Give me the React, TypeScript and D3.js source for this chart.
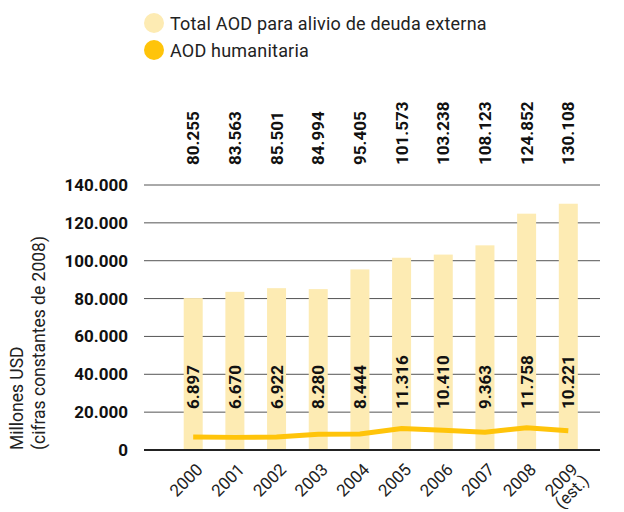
import React from "react";
import * as d3 from "d3";

const years = ["2000", "2001", "2002", "2003", "2004", "2005", "2006", "2007", "2008", "2009"];
const totalAOD = [80255, 83563, 85501, 84994, 95405, 101573, 103238, 108123, 124852, 130108];
const humanitarian = [6897, 6670, 6922, 8280, 8444, 11316, 10410, 9363, 11758, 10221];
const yTicks = [0, 20000, 40000, 60000, 80000, 100000, 120000, 140000];

const fmt = (v: number) => d3.format(",")(v).replace(/,/g, ".");

const BAR = "#FDEBB3";
const LINE = "#FFC40A";
const FONT = "Roboto, 'DejaVu Sans', sans-serif";

export default function App() {
  const x = d3.scalePoint<string>().domain(years).range([193.2, 568.3]);
  const y = d3.scaleLinear().domain([0, 140000]).range([450, 185]);
  const barW = 19;
  const line = d3
    .line<number>()
    .x((_, i) => x(years[i]) as number)
    .y((d) => y(d));

  return (
    <div style={{ position: "absolute", left: 0, top: 0 }}>
      <svg width={624} height={512} style={{ display: "block", fontFamily: FONT }}>
        <rect width={624} height={512} fill="#fff" />
        {/* legend */}
        <circle cx={154} cy={23} r={10} fill={BAR} />
        <text x={170} y={29.5} fontSize={18} letterSpacing={0.2} fill="#222">Total AOD para alivio de deuda externa</text>
        <circle cx={154} cy={50} r={10} fill={LINE} />
        <text x={170} y={56.5} fontSize={18} letterSpacing={0.2} fill="#222">AOD humanitaria</text>

        {/* gridlines */}
        {yTicks.slice(1).map((t) => (
          <line key={t} x1={144} x2={600} y1={y(t)} y2={y(t)} stroke="#555" strokeWidth={1} />
        ))}
        {/* y tick labels */}
        {yTicks.map((t) => (
          <text key={t} x={128} y={y(t)} dy="0.35em" textAnchor="end" fontSize={17} fontWeight="bold" fill="#111">
            {fmt(t)}
          </text>
        ))}

        {/* bars */}
        {totalAOD.map((v, i) => (
          <rect key={i} x={(x(years[i]) as number) - barW / 2} y={y(v)} width={barW} height={y(0) - y(v)} fill={BAR} />
        ))}

        {/* zero line */}
        <line x1={144} x2={600} y1={y(0)} y2={y(0)} stroke="#222" strokeWidth={2} />

        {/* humanitarian line */}
        <path d={line(humanitarian) as string} fill="none" stroke={LINE} strokeWidth={5} />

        {/* top labels */}
        {totalAOD.map((v, i) => (
          <text
            key={i}
            transform={`translate(${(x(years[i]) as number) + 6},165) rotate(-90)`}
            fontSize={17}
            fontWeight="bold"
            fill="#111"
          >
            {fmt(v)}
          </text>
        ))}

        {/* inner labels */}
        {humanitarian.map((v, i) => (
          <text
            key={i}
            transform={`translate(${(x(years[i]) as number) + 6},409) rotate(-90)`}
            fontSize={17}
            fontWeight="bold"
            fill="#111"
          >
            {fmt(v)}
          </text>
        ))}

        {/* x labels */}
        {years.map((yr, i) => (
          <text
            key={yr}
            transform={`translate(${(x(years[i]) as number) + 2},462) rotate(-45)`}
            textAnchor="end"
            fontSize={17}
            fill="#222"
          >
            <tspan x={0} dy="0.72em">{yr}</tspan>
            {i === years.length - 1 && (
              <tspan x={0} dy="0.92em">(est.)</tspan>
            )}
          </text>
        ))}

        {/* y axis title */}
        <text transform="translate(23,450) rotate(-90)" fontSize={17.5} fill="#222">Millones USD</text>
        <text transform="translate(45,450) rotate(-90)" fontSize={17.5} fill="#222">(cifras constantes de 2008)</text>
      </svg>
    </div>
  );
}
